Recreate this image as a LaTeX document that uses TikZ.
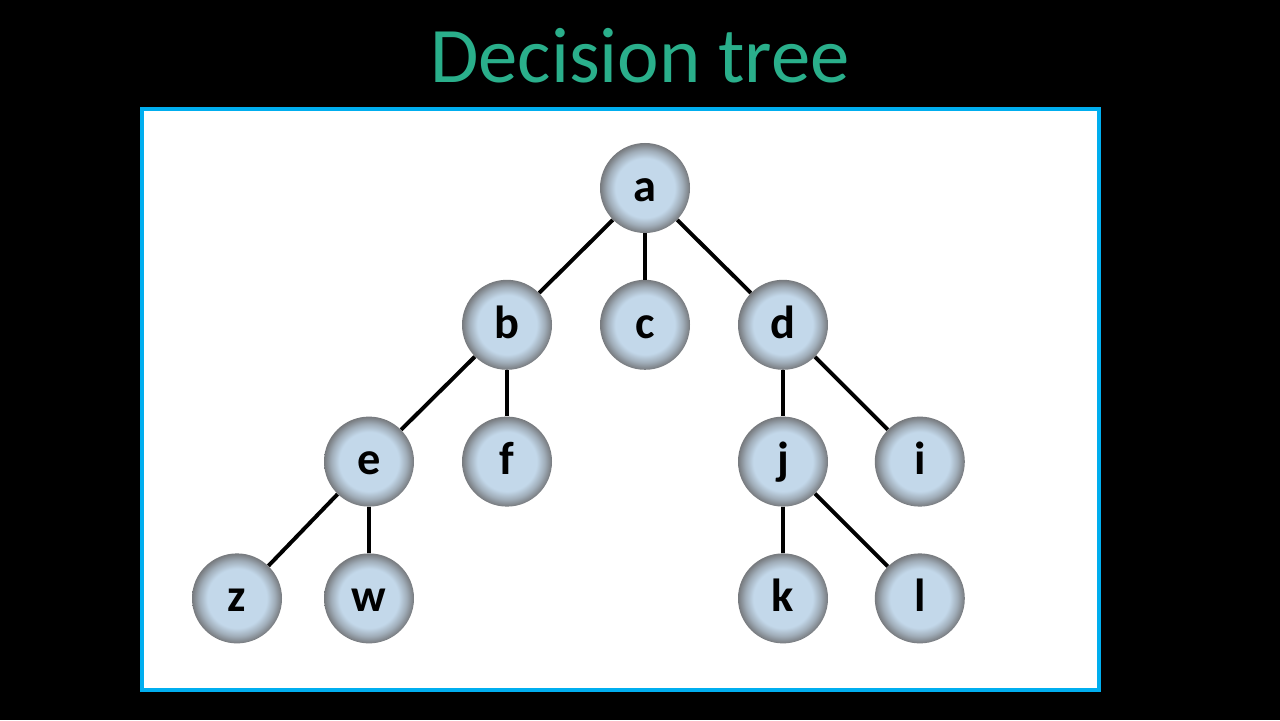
\documentclass[tikz,border=0pt]{standalone}
\usepackage{fontspec}
\setmainfont{Carlito}
\usetikzlibrary{positioning}
\definecolor{titlegreen}{RGB}{42,175,139}
\definecolor{framecyan}{RGB}{0,174,239}
\definecolor{ballblue}{RGB}{195,216,234}
\definecolor{ballrim}{RGB}{118,121,125}
\pgfdeclareradialshading{ballshade}{\pgfpoint{0bp}{0bp}}{color(0bp)=(ballblue); color(16.5bp)=(ballblue); color(21bp)=(ballblue!55!ballrim); color(25bp)=(ballrim); color(50bp)=(ballrim)}
\tikzstyle{ball} = [circle, minimum size=2.25cm, inner sep=0pt, shading=ballshade,
text height=19pt, text depth=0pt, font=\fontsize{33}{33}\selectfont\bfseries, text=black]
\tikzstyle{branch} = [line width=2.8pt, black]

\begin{document}
\begin{tikzpicture}[node distance=3.42cm]
        \fill[black] (0,0) rectangle (32,18);
        \draw[framecyan, line width=2.85pt, fill=white] (3.55,0.75) rectangle (27.475,15.275);
        \node[text=titlegreen, font=\fontsize{56}{56}\selectfont] (title) at (16,16.6) {Decision tree};

        \node[ball] (a) at (16.125,13.3) {a};
        \node[ball, below of=a, xshift=-3.45cm] (b) {b};
        \node[ball, below of=a] (c) {c};
        \node[ball, below of=a, xshift=3.45cm] (d) {d};
        \node[ball, below of=b, xshift=-3.45cm] (e) {e};
        \node[ball, below of=b] (f) {f};
        \node[ball, below of=d] (j) {j};
        \node[ball, below of=d, xshift=3.42cm] (i) {i};
        \node[ball, below of=e, xshift=-3.3cm] (z) {z};
        \node[ball, below of=e] (w) {w};
        \node[ball, below of=j] (k) {k};
        \node[ball, below of=j, xshift=3.42cm] (l) {l};

        \draw[branch] (a) -- (b);
        \draw[branch] (a) -- (c);
        \draw[branch] (a) -- (d);

        \draw[branch] (b) -- (e);
        \draw[branch] (b) -- (f);
        \draw[branch] (d) -- (j);
        \draw[branch] (d) -- (i);

        \draw[branch] (e) -- (z);
        \draw[branch] (e) -- (w);
        \draw[branch] (j) -- (k);
        \draw[branch] (j) -- (l);

    \end{tikzpicture}
\end{document}
